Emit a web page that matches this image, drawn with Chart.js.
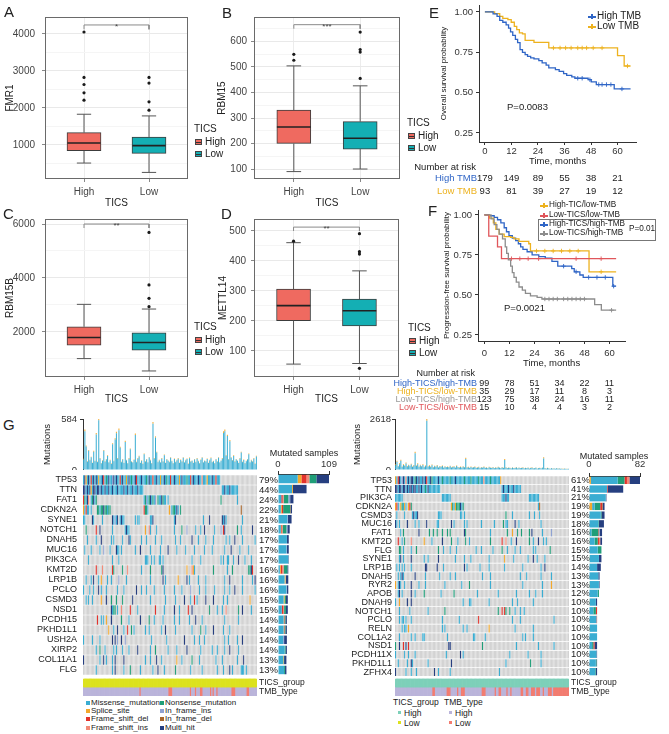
<!DOCTYPE html>
<html>
<head>
<meta charset="utf-8">
<title>TICS / TMB figure</title>
<script src="https://cdn.jsdelivr.net/npm/chart.js@4"></script>
<style>
  body { margin: 0; background: #fff; font-family: "Liberation Sans", Arial, sans-serif; color: #222; }
  #fig { position: relative; width: 669px; height: 734px; overflow: hidden; background: #fff; }
  #fig canvas { position: absolute; }
  .t { position: absolute; white-space: nowrap; line-height: 1; }
  .bk { position: absolute; width: 7px; height: 6px; border: 1px solid #444; box-sizing: border-box; }
  .bk::after { content: ''; position: absolute; left: 0; right: 0; top: 2px; height: 1px; background: #333; }
  .sw { position: absolute; width: 4px; height: 4px; }
  .lk { position: absolute; width: 8px; height: 1.5px; }
  .lk::after { content: ''; position: absolute; left: 3px; top: -2px; width: 1.5px; height: 5px; background: inherit; }
  .rbox { position: absolute; border: 1px solid #777; }
</style>
</head>
<body>
<div id="fig"></div>
<script>
// ---------- box plot data: [lower whisker, Q1, median, Q3, upper whisker] for High / Low TICS
const fmr1Box = [[512, 846, 1054, 1334, 1831], [259, 774, 982, 1217, 1786]];
const fmr1Out = [[2211, 2410, 2635, 2825, 4054], [1940, 2166, 2672, 2825]];
const rbm15Box = [[91, 201, 265, 331, 504], [101, 179, 221, 286, 426]];
const rbm15Out = [[526, 549], [455, 558, 568, 636]];
const rbm15bBox = [[1006, 1503, 1789, 2186, 3019], [547, 1317, 1602, 1963, 2845]];
const rbm15bOut = [[], [2932, 3242, 3739, 5689]];
const mettl14Box = [[56, 201, 251, 306, 461], [58, 183, 234, 273, 367]];
const mettl14Out = [[466], [42, 423, 431, 491]];
const groups = ['High', 'Low'];

// ---------- Kaplan-Meier curves (time in months, survival probability)
const osHighT = [0, 3.7, 5.5, 6.7, 8.1, 9.6, 10.7, 11.6, 12.6, 13.8, 14.8, 15.9, 17.0, 18.2, 19.3, 20.7, 22.2, 24.4, 25.9, 27.7, 28.9, 31.9, 33.6, 35.6, 37.0, 39.3, 40.7, 46.7, 48.1, 50.4, 58.5, 65.9];
const osHighS = [1, 0.988, 0.973, 0.948, 0.936, 0.92, 0.90, 0.876, 0.855, 0.83, 0.81, 0.767, 0.75, 0.735, 0.725, 0.715, 0.709, 0.698, 0.684, 0.67, 0.653, 0.643, 0.632, 0.618, 0.607, 0.597, 0.589, 0.58, 0.566, 0.55, 0.523, 0.523];
const osLowT = [0, 4.4, 6.7, 8.1, 10.4, 11.9, 13.3, 14.4, 15.6, 17.0, 18.2, 22.2, 28.9, 60.0, 63.0, 65.9];
const osLowS = [1, 0.99, 0.973, 0.96, 0.952, 0.936, 0.911, 0.89, 0.87, 0.864, 0.824, 0.812, 0.777, 0.729, 0.665, 0.665];
const osHighCens = [[42, 0.589], [44, 0.589], [47.5, 0.58], [51.5, 0.55], [53, 0.55], [55, 0.55], [57, 0.55], [62, 0.523]];
const osLowCens = [[31, 0.777], [34, 0.777], [36.5, 0.777], [39, 0.777], [42, 0.777], [44, 0.777], [46, 0.777], [49, 0.777], [53, 0.777], [64.5, 0.665]];
const osRiskHigh = [179, 149, 89, 55, 38, 21];
const osRiskLow = [93, 81, 39, 27, 19, 12];

const pfsHhT = [0, 2.4, 4.7, 6.3, 7.9, 9.5, 10.6, 11.8, 13.4, 15.0, 16.3, 17.4, 18.5, 20.5, 22.9, 26.1, 29.2, 32.4, 35.2, 41.9, 43.1, 45.8, 47.4, 61.6, 63.2];
const pfsHhS = [1, 0.995, 0.985, 0.97, 0.95, 0.92, 0.895, 0.87, 0.855, 0.84, 0.82, 0.80, 0.785, 0.77, 0.75, 0.74, 0.73, 0.71, 0.68, 0.665, 0.645, 0.625, 0.61, 0.555, 0.555];
const pfsHlT = [0, 2.4, 4.3, 5.5, 7.1, 9.5, 12.6, 14.2, 16.6, 21.3, 22.1, 50.2, 63.2];
const pfsHlS = [1, 0.98, 0.95, 0.91, 0.88, 0.865, 0.86, 0.85, 0.835, 0.82, 0.775, 0.645, 0.645];
const pfsLhT = [0, 3.2, 4.7, 6.0, 7.1, 8.7, 10.0, 10.7, 11.5, 12.6, 13.4, 14.2, 15.3, 16.6, 18.2, 19.7, 22.1, 25.3, 27.6, 52.9, 56.1, 63.2];
const pfsLhS = [1, 0.975, 0.94, 0.91, 0.88, 0.85, 0.80, 0.76, 0.72, 0.68, 0.64, 0.61, 0.58, 0.55, 0.53, 0.51, 0.495, 0.485, 0.475, 0.44, 0.405, 0.405];
const pfsLlT = [0, 2.1, 6.3, 8.2, 63.2];
const pfsLlS = [1, 0.868, 0.80, 0.727, 0.727];
const pfsHhCens = [[38, 0.68], [44, 0.645], [50, 0.61], [54, 0.61], [58, 0.61], [62, 0.555]];
const pfsHlCens = [[25, 0.775], [29, 0.775], [33, 0.775], [37, 0.775], [41, 0.775], [45, 0.775], [56, 0.645]];
const pfsLhCens = [[29, 0.475], [31, 0.475], [33, 0.475], [35, 0.475], [38, 0.475], [40, 0.475], [42, 0.475], [44, 0.475], [46, 0.475], [48, 0.475], [61, 0.405]];
const pfsLlCens = [[13, 0.727], [17, 0.727], [21, 0.727], [26, 0.727], [44, 0.727], [56, 0.727]];
const pfsRiskHh = [99, 78, 51, 34, 22, 11];
const pfsRiskHl = [35, 29, 17, 11, 8, 3];
const pfsRiskLh = [123, 75, 38, 24, 16, 11];
const pfsRiskLl = [15, 10, 4, 4, 3, 2];
const kmTicks = [0, 12, 24, 36, 48, 60];

// ---------- oncoplots: m missense, n nonsense, s splice, d fs_del, i fs_ins, f if_ins, e if_del, x multi
const genesL = ['TP53', 'TTN', 'FAT1', 'CDKN2A', 'SYNE1', 'NOTCH1', 'DNAH5', 'MUC16', 'PIK3CA', 'KMT2D', 'LRP1B', 'PCLO', 'CSMD3', 'NSD1', 'PCDH15', 'PKHD1L1', 'USH2A', 'XIRP2', 'COL11A1', 'FLG'];
const pctL = [79, 44, 24, 22, 21, 18, 17, 17, 17, 16, 16, 16, 15, 15, 14, 14, 14, 14, 13, 13];
const mutL = [
  'mxsmxmdmxm xmsmmxdmnm xmmfxmxmmd mxmmsmxmnm mxdmmmxmmm nmxmmdmmxm msmmxmnmmd mmxmmmsmxm mmnmmdmxmm mxmmimmmsm mmxmmdmmm',
  'xxmxmxsmxx mxxmxmmxmm xmmxmmmxmm mmxmmxmmmx mmmxmmmm.. .......... .......... .......... .......... .......... .......... mmxmmmxmmm mmm',
  'dnmxi.mnxm n......... .......... .......... ........mn fmnxmnmf.n mmxnmm.m.. .......... .......... .......... .........n .......... ..m',
  'smdmm.m... .nnmnnxnnm nn........ .......... ........dn nm........ ........s. mnnmxm.n.. .......... .......... .......... .......... .....e',
  'mm.....xm. .....m.... ...xmfmx.m xmm....... .m.mm..... ...mmx.... .......... ..mx...... .......... .....m.... x......... xmxm...... ......m',
  '..n....... d..x...... ...m...... ...mxmm... .........s ..im....m. .......... ..m.....n. ..f......m ...m..x... ....m....f .dx....... ..n..m.... ....x',
  '...m...... m...x..... ..m.m..... .m....xm.. ......m... m......m.. ..m....... ...m...m.. ......x... .m.....m.. ...m...... ...m..m... x.....m... ......m',
  '.m....m... ...m..f... .m....xmm. m......... .m...x.... ...m...... .m.....x.. ....m..... .m......m. ......m... ..m....... ..m....x.. ....m..... .m',
  '....m..... .......... ...m....m. .......... .........m mm..m.m... mm.m...... .......... ......m... ...m...... .........m .m..mm...m ...x....m. ...m',
  '.......... d....i.... ...dn..... .n...i.... ......m... ...n...... ..nx...... .......... ..s...ism. .......... ...n...... ....m...n. .......... .nnxd',
  '..m...m.x. ..m.s....m ..m.....f. ....m..... .......... ...m...... ...x.m.... .....s.... ..x.m..... .m.....m.. .......... ..m...x... ......m... ....m.x',
  'm....m..m. ..x.m...m. .......m.. ..m....... ..x...m... m.....m... ....m..... ..m.....m. .....f.... ..m....m.. ....m..... ..m...m... x.....m... ......m',
  '..m.m..m.. ....s...x. ..n...n... .n.......x .......... ...m...... .....m.... ...m...... x....m..d. m......x.. ...x...... .m..m..... .......... ..s',
  '.......... .......... ..xmnn.m.. i......d.. ...m...... .......d.. ....m..... ..x...m... ...d..x... .......... n.....m... m..i...... ...n..x... ...m',
  '.......... .d..m.m.s. ..x....... n.....m... .....x.... ..n...m... ...m...... ..m...m... ....m....x ....m..... .......... ..m....... ...m',
  '.......... .......... s...m..x.. ..m..d..n. m........m ..m....... ..m..x.... ...m...... ......m... ...n...m.. ...x...... .m....m',
  'm......m.. ...m...... ...x.x.f.. x..f...... .......... ....m..... ......m... .......... x.......m. ..m...m... .......... ..m..m.... ..m...x',
  '.......... m..n...m.. ....m.m... .m....m... ...x...... ...m...n.. .......m.. ....m..... ..x....... ...m...... ..m...m... ..m...x... ...m',
  'x......... ...m..x.m. ...m.x.... ..x....... .........m ...m....x. ..m....... ....s...m. ......n... ..m....... .....m.... m......... ..m....x',
  '.......... m......... ...m.x.... ..m....n.. .....m.... .....m...x ....m..... ...n...... .....m.... ....m..... ......m... .m....x.m. .....mmm.m'
];
const tmbLowL = [45, 68, 69, 70, 85, 89, 93, 94, 101, 103, 106, 118, 119, 120, 130, 131];
const burdenL = [120, 445, 268, 95, 220, 110, 145, 80, 210, 100, 407, 90, 570, 130, 75, 105, 220, 95, 120, 160,
  85, 110, 70, 295, 100, 350, 420, 130, 455, 256, 90, 120, 80, 320, 110, 75, 130, 237, 95, 85,
  115, 400, 90, 130, 155, 80, 105, 70, 180, 95, 120, 85, 143, 110, 75, 530, 130, 370, 200, 90,
  110, 85, 130, 95, 170, 80, 120, 105, 90, 140, 100, 75, 125, 90, 110, 130, 80, 115, 95, 140,
  85, 110, 125, 70, 135, 95, 105, 80, 120, 90, 130, 100, 75, 115, 140, 85, 105, 95, 125, 80,
  110, 135, 90, 100, 75, 120, 95, 140, 85, 105, 130, 425, 445, 160, 388, 120, 330, 140, 110, 160,
  95, 120, 105, 80, 130, 200, 90, 115, 75, 100, 120, 180, 85, 110, 95, 130, 70, 155];
const tipsL = [8, 20, 12, 5, 10, 6, 8, 4, 10, 6, 18, 5, 14, 6, 4, 6, 10, 5, 6, 8,
  5, 6, 4, 12, 5, 15, 18, 6, 20, 10, 5, 6, 4, 14, 6, 4, 6, 10, 5, 4,
  6, 18, 5, 6, 8, 4, 6, 4, 8, 5, 6, 4, 7, 6, 4, 20, 6, 15, 9, 5,
  6, 4, 7, 5, 8, 4, 6, 5, 4, 7, 5, 4, 6, 5, 6, 7, 4, 6, 5, 7,
  4, 6, 6, 4, 7, 5, 5, 4, 6, 5, 7, 5, 4, 6, 7, 4, 5, 5, 6, 4,
  6, 7, 5, 5, 4, 6, 5, 7, 4, 5, 6, 18, 20, 8, 16, 6, 14, 7, 5, 8,
  5, 6, 5, 4, 6, 10, 5, 6, 4, 5, 6, 8, 4, 6, 5, 6, 4, 8];
const cntL = {
  m: [42, 30, 7, 6, 20, 6, 19, 18, 22, 4, 14, 18, 12, 8, 12, 12, 11, 14, 11, 13],
  s: [8, 2, 0, 2, 0, 1, 0, 0, 0, 2, 2, 0, 2, 0, 1, 1, 0, 0, 1, 0],
  d: [11, 0, 3, 3, 0, 2, 0, 0, 0, 3, 0, 0, 0, 3, 1, 1, 0, 0, 0, 0],
  i: [6, 0, 2, 0, 0, 1, 0, 0, 0, 3, 0, 0, 0, 2, 0, 0, 0, 0, 0, 0],
  n: [15, 0, 10, 15, 0, 8, 0, 0, 0, 8, 0, 0, 3, 4, 2, 2, 0, 2, 1, 2],
  f: [0, 0, 4, 0, 1, 2, 0, 1, 0, 0, 1, 1, 0, 0, 0, 0, 2, 0, 0, 0],
  e: [0, 0, 0, 1, 0, 0, 0, 0, 0, 0, 0, 0, 0, 0, 0, 0, 0, 0, 0, 0],
  x: [27, 29, 7, 3, 8, 5, 4, 4, 1, 2, 5, 3, 4, 4, 3, 3, 6, 3, 5, 3]
};

const genesR = ['TP53', 'TTN', 'PIK3CA', 'CDKN2A', 'CSMD3', 'MUC16', 'FAT1', 'KMT2D', 'FLG', 'SYNE1', 'LRP1B', 'DNAH5', 'RYR2', 'APOB', 'DNAH9', 'NOTCH1', 'PCLO', 'RELN', 'COL1A2', 'NSD1', 'PCDH11X', 'PKHD1L1', 'ZFHX4'];
const pctR = [61, 41, 21, 19, 19, 18, 16, 16, 15, 15, 14, 13, 13, 12, 10, 10, 10, 10, 10, 10, 10, 10, 10];
const mutR = [
  'smdxmfxmim xmxxmnxmxm mxmxdmmxnm mmmxmmnmmm mmnmmmxmmm mmmnmmmmnm mmmmnmmmim mmmnmmmmmm ms',
  'xxmxxmxxmx mxxmxxmmxm xmmnmxmmmm mmmmm..... .......... .......... .......... .......... ..mxmmmxmm mxmmmmm',
  'mmmmmm.... .......... .......... ......mmmm mmm....... .......... .......... .......... ..mmmxmm.. .......... ...mmmmmmm m',
  'sdm.snmsm. sdn....... .......... .......... ...snmsnnn xmn....... .......... .......... .......... .......... .......... me',
  '.m.....m.. ...mxmmx.. .......... ...mmm.... .......... mm.m...... .......... .......... .....n.... m......... ...m...m.. .m',
  'xm.m.....x .....m..m. ....x..... ..mm...... ...x.m.... ...m.m.... ......m... ......m... ...n.mm... ..x..m.... .......... ..m',
  '....m.n... ........x. ......n..n ..n...n... n.n....... ...xn..... .......... ...m...... ......n... s...n..n.. ...n.x.... ...m...... f',
  '..d..m.n.. ..i....... ..s.....m. ......x... ...n....m. ....n..m.. .......... ...n...... ..d..i...m ...x...... ...n..m... x...m.m',
  '...nn.m... ..m...n... .......... ...n...m.. ..m....m.. .......... ..m...m... .....m.... ..n...m... ..m...m... ......m.m. .........n',
  '...mx.m... ..x....... ..m..m.... ...x...... ......m... ...m....m. .......... ..m....... ....s..... .m........ ..m...x..m .....m',
  '.m.m.m.m.. ..m....... ...xx..... ..x....m.. .......... ...x.m.... .....m.... ..m....... ....m..... ........m. .......... ..m..x',
  '..m.mxm... .....x.... ...m...... ....m..... ..m...m... .......... .......m.. ...m...... .......... ......m... .m........ ..m....... m',
  's.mxm..m.. ..x.....m. ...m...... ........m. .......... .m.....n.. .......... ...m...... .......... ........m. .......... ...m...... s',
  '..mx.m.... ..x..m.... ..n....... .....m.... .....n.... .......... ...m...... .........m .......... ...m...... ...m....m. ...m',
  'm..s.....x ..x....... .......... .......... .......... ..m....mm. .......... ..m....... .......... m...m..... ......m',
  '...m...... .m........ .....m.... ........n. .......... .......... .......... .........n ..d.dn..n. ..m...m..m',
  '...m.mm.m. ..m....... .......... ......m... .........m .......... ....d..... .......... .......... m.....m... .......... .......... ..m',
  '.....m.mm. s......... .......... ......m.m. .......... ..m..m.... .......... ..s....... .......... ..m....... ......m',
  '...m...... ..m..m.... .mm....... .......... m......... .......... mm.......m .......... .......... ........m. m.....m',
  'n..x..d.x. d......... .......... .......... .xx....... .......... .......n.. .......... .......... ...m...... .......... m......... ..m',
  'm......m.. m....m.... .......... .........m .......... x.m....... .......... .......... ........m. .......... ..m....... ..m',
  '..m......m ..xm...... .....m.... .......... ...x...... .......... .......... .......... .....m.... .......... ....n..... ..m',
  'x.......m. ..m...m... .......... x..m...... ..m....... .......... .......... .......... m'
];
const tmbLowR = [29, 30, 40, 41, 42, 48, 51, 52, 53, 67, 68, 69, 77, 80, 81, 86, 89, 97, 98, 101, 102, 105, 106, 107, 109, 110, 111, 114, 118, 119, 120, 122, 123, 124, 125, 126, 127, 128, 129, 130, 131, 132, 133];
const burdenR = [250, 420, 180, 300, 470, 150, 260, 200, 330, 170, 240, 190, 280, 160, 220, 860, 200, 300, 150, 230,
  180, 260, 140, 200, 2528, 170, 210, 150, 240, 130, 190, 160, 220, 120, 180, 150, 200, 110, 170, 140,
  160, 130, 190, 120, 150, 170, 110, 200, 140, 120, 150, 110, 170, 130, 560, 120, 140, 100, 160, 110,
  130, 150, 100, 120, 140, 90, 130, 110, 150, 100, 120, 90, 140, 110, 100, 130, 90, 120, 100, 140,
  110, 90, 130, 100, 510, 120, 90, 110, 100, 80, 120, 90, 100, 130, 80, 110, 90, 100, 120, 80,
  100, 90, 110, 70, 100, 120, 80, 90, 110, 70, 90, 100, 80, 110, 590, 90, 70, 100, 80, 60,
  90, 70, 80, 60, 90, 70, 80, 60, 70, 50, 70, 60, 50, 60];
const tipsR = [40, 60, 30, 45, 60, 25, 40, 30, 50, 30, 35, 30, 45, 25, 35, 80, 30, 45, 25, 35,
  30, 40, 25, 30, 90, 25, 35, 25, 40, 20, 30, 25, 35, 20, 30, 25, 30, 20, 25, 20,
  25, 20, 30, 20, 25, 25, 20, 30, 20, 20, 25, 20, 25, 20, 70, 20, 25, 20, 25, 20,
  20, 25, 20, 20, 25, 15, 20, 20, 25, 15, 20, 15, 25, 20, 15, 20, 15, 20, 15, 25,
  20, 15, 20, 15, 60, 20, 15, 20, 15, 15, 20, 15, 15, 20, 15, 20, 15, 15, 20, 15,
  15, 15, 20, 10, 15, 20, 15, 15, 20, 10, 15, 15, 10, 20, 70, 15, 10, 15, 15, 10,
  15, 10, 15, 10, 15, 10, 15, 10, 10, 10, 10, 10, 10, 10];
const cntR = {
  s: [3, 0, 0, 5, 0, 0, 1, 1, 0, 1, 0, 0, 1, 0, 1, 0, 0, 1, 0, 0, 0, 0, 0],
  m: [43, 29, 27, 4, 19, 15, 3, 8, 14, 15, 13, 15, 15, 14, 10, 7, 12, 12, 13, 5, 12, 11, 10],
  n: [11, 0, 0, 9, 1, 1, 11, 5, 6, 0, 0, 0, 0, 2, 0, 4, 0, 0, 0, 2, 0, 1, 1],
  d: [4, 1, 0, 3, 0, 0, 1, 2, 0, 0, 0, 0, 0, 0, 0, 2, 1, 0, 0, 2, 0, 0, 0],
  i: [4, 0, 0, 0, 0, 0, 0, 2, 0, 0, 0, 0, 0, 0, 0, 0, 0, 0, 0, 0, 0, 0, 0],
  f: [0, 0, 0, 0, 0, 0, 1, 0, 0, 0, 0, 0, 0, 0, 0, 0, 0, 0, 0, 0, 0, 0, 0],
  e: [0, 0, 0, 1, 0, 0, 0, 0, 0, 0, 0, 0, 0, 0, 0, 0, 0, 0, 0, 0, 0, 0, 0],
  x: [17, 25, 1, 3, 5, 8, 4, 3, 0, 4, 6, 2, 1, 0, 2, 0, 0, 0, 0, 4, 1, 1, 2]
};

// ---------- styling
const FONT = '"Liberation Sans", Arial, sans-serif';
const HIGH_COL = '#EF6A60', LOW_COL = '#14AFB4';
const MUTCOL = { m: '#3AADD2', n: '#1F9E78', s: '#F3A82B', d: '#E3322B', i: '#F28A77', f: '#8FA2D2', e: '#A5652B', x: '#263F80' };
const CELL_GRAY = '#D3D3D3';
const LAV = '#BAB4DA', SALMON = '#F27C70';
const BLUE = '#2F65C6', GOLD = '#EDB21F', GREY = '#8C8C8C', RED = '#E0565B';

Chart.defaults.font.family = FONT;
Chart.defaults.color = '#333';
Chart.defaults.animation = false;
Chart.defaults.responsive = false;
Chart.defaults.plugins.legend.display = false;
Chart.defaults.plugins.tooltip.enabled = false;

const fig = document.getElementById('fig');

function mkCanvas(x, y, w, h) {
  const c = document.createElement('canvas');
  c.width = w; c.height = h;
  c.style.left = x + 'px'; c.style.top = y + 'px';
  fig.appendChild(c);
  return c;
}
function txt(x, y, s, o = {}) {
  const d = document.createElement('div');
  const size = o.size || 10;
  d.className = 't';
  d.textContent = s;
  d.style.fontSize = size + 'px';
  d.style.left = x + 'px';
  d.style.top = (y - size / 2) + 'px';
  if (o.color) d.style.color = o.color;
  if (o.align === 'right') d.style.transform = 'translateX(-100%)';
  if (o.align === 'center') d.style.transform = 'translateX(-50%)';
  fig.appendChild(d);
  return d;
}
function el(cls, x, y, col, w, h) {
  const d = document.createElement('div');
  d.className = cls;
  d.style.left = x + 'px'; d.style.top = y + 'px';
  if (col) d.style.background = col;
  if (w) d.style.width = w + 'px';
  if (h) d.style.height = h + 'px';
  fig.appendChild(d);
  return d;
}
const fixW = w => s => { s.width = w; s.paddingTop = 0; s.paddingBottom = 0; };
const fixH = h => s => { s.height = h; s.paddingLeft = 0; s.paddingRight = 0; };
const setTicks = vals => s => { s.ticks = vals.map(v => ({ value: v })); };
const parseRow = (s, n) => (s.replace(/\s+/g, '') + '.'.repeat(n)).slice(0, n).split('');

const framePlugin = {
  id: 'frame',
  afterDraw(ch) {
    const { left, top, right, bottom } = ch.chartArea;
    const ctx = ch.ctx;
    ctx.save();
    ctx.strokeStyle = '#6a6a6a';
    ctx.lineWidth = 1;
    ctx.strokeRect(Math.round(left) + 0.5, Math.round(top) + 0.5, Math.round(right - left) - 1, Math.round(bottom - top) - 1);
    ctx.restore();
  }
};
const sigPlugin = {
  id: 'sig',
  afterDatasetsDraw(ch, args, o) {
    if (!o || !o.text) return;
    const ctx = ch.ctx;
    ctx.save();
    ctx.fillStyle = '#444';
    ctx.font = '8px ' + FONT;
    ctx.textAlign = 'center';
    ctx.textBaseline = 'alphabetic';
    ctx.fillText(o.text, ch.scales.x.getPixelForValue(1.5), ch.scales.y.getPixelForValue(o.y) + 4);
    ctx.restore();
  }
};

// ---------- box plot panels
function boxPanel(p) {
  const c = mkCanvas(p.cx, p.cy, p.cw, p.ch);
  const HALF = 0.255, CAP = 0.11;
  const boxes = [], whisk = [], meds = [], pts = [];
  p.box.forEach((b, i) => {
    const x = i + 1;
    const [lo, q1, md, q3, hi] = b;
    boxes.push({ x, y: [q1, q3] });
    whisk.push({ x, y: lo }, { x, y: q1 }, { x, y: null }, { x, y: q3 }, { x, y: hi }, { x, y: null },
      { x: x - CAP, y: lo }, { x: x + CAP, y: lo }, { x, y: null },
      { x: x - CAP, y: hi }, { x: x + CAP, y: hi }, { x, y: null });
    meds.push({ x: x - HALF, y: md }, { x: x + HALF, y: md }, { x, y: null });
    p.out[i].forEach(v => pts.push({ x, y: v }));
  });
  const [by, bl] = p.bracket;
  const bracket = [{ x: 1, y: bl }, { x: 1, y: by }, { x: 2, y: by }, { x: 2, y: bl }];
  const major = new Set(p.major);
  new Chart(c, {
    type: 'bar',
    data: {
      datasets: [
        { type: 'bar', data: boxes, backgroundColor: [HIGH_COL, LOW_COL], borderColor: '#3c3c3c', borderWidth: 1, borderSkipped: false, barThickness: 34, order: 5 },
        { type: 'line', data: whisk, borderColor: '#555', borderWidth: 1, pointRadius: 0, order: 4 },
        { type: 'line', data: meds, borderColor: '#222', borderWidth: 1.6, pointRadius: 0, order: 3 },
        { type: 'scatter', data: pts, backgroundColor: '#1a1a1a', borderWidth: 0, pointRadius: 1.6, order: 2 },
        { type: 'line', data: bracket, borderColor: '#8a8a8a', borderWidth: 1, pointRadius: 0, order: 1 }
      ]
    },
    options: {
      layout: { padding: { left: p.pl, top: p.pt, right: 2, bottom: 0 } },
      plugins: { sig: { text: p.sig, y: by } },
      scales: {
        x: {
          type: 'linear', min: 0.4, max: 2.6, offset: false,
          afterBuildTicks: setTicks([1, 2]), afterFit: fixH(p.xh),
          ticks: { callback: (v) => groups[v - 1] || '', padding: 4, font: { size: 10 }, color: '#444', maxRotation: 0, autoSkip: false },
          grid: { color: '#ececec', tickColor: '#888', tickLength: 3, offset: false },
          border: { display: false },
          title: { display: true, text: 'TICS', font: { size: 10, lineHeight: 1 }, padding: 0, color: '#222' }
        },
        y: {
          min: p.ymin, max: p.ymax,
          afterBuildTicks: setTicks(p.major.concat(p.minor)), afterFit: fixW(p.yw),
          ticks: { callback: v => major.has(v) ? String(v) : '', padding: p.tp, font: { size: 10 }, color: '#444', autoSkip: false },
          grid: {
            color: ctx => major.has(ctx.tick.value) ? '#e9e9e9' : '#f5f5f5',
            tickColor: ctx => major.has(ctx.tick.value) ? '#888' : 'rgba(0,0,0,0)', tickLength: 3
          },
          border: { display: false },
          title: { display: true, text: p.title, font: { size: 10, lineHeight: 1 }, padding: 0, color: '#222' }
        }
      }
    },
    plugins: [framePlugin, sigPlugin]
  });
}

boxPanel({ cx: 0, cy: 0, cw: 192, ch: 208, pl: 5, pt: 17, yw: 40, xh: 29, tp: 7, title: 'FMR1',
  box: fmr1Box, out: fmr1Out, ymin: 81, ymax: 4459, major: [1000, 2000, 3000, 4000], minor: [500, 1500, 2500, 3500],
  bracket: [4244, 4126], sig: '*' });
boxPanel({ cx: 200, cy: 0, cw: 204, ch: 208, pl: 17, pt: 17, yw: 37, xh: 29, tp: 4, title: 'RBM15',
  box: rbm15Box, out: rbm15Out, ymin: 62, ymax: 695, major: [100, 200, 300, 400, 500, 600], minor: [150, 250, 350, 450, 550, 650],
  bracket: [665, 649], sig: '***' });
boxPanel({ cx: 0, cy: 190, cw: 192, ch: 214, pl: 5, pt: 29, yw: 40, xh: 27, tp: 7, title: 'RBM15B',
  box: rbm15bBox, out: rbm15bOut, ymin: 323, ymax: 6186, major: [2000, 4000, 6000], minor: [1000, 3000, 5000],
  bracket: [6000, 5851], sig: '**' });
boxPanel({ cx: 200, cy: 190, cw: 203, ch: 214, pl: 18, pt: 29, yw: 36, xh: 27, tp: 5, title: 'METTL14',
  box: mettl14Box, out: mettl14Out, ymin: 13, ymax: 540, major: [100, 200, 300, 400, 500], minor: [50, 150, 250, 350, 450],
  bracket: [513, 500], sig: '**' });

// box legends
[[194, 129], [407, 123], [194, 327], [408, 328]].forEach(([x, y]) => {
  txt(x, y, 'TICS', { size: 10 });
  el('bk', x + 1, y + 10, HIGH_COL);
  txt(x + 11, y + 13, 'High', { size: 10 });
  el('bk', x + 1, y + 22, LOW_COL);
  txt(x + 11, y + 25, 'Low', { size: 10 });
});

// ---------- Kaplan-Meier panels
function kmChart(p) {
  const c = mkCanvas(p.cx, p.cy, p.cw, p.ch);
  const ds = [];
  p.curves.forEach(cv => {
    ds.push({ type: 'line', data: cv.t.map((t, i) => ({ x: t, y: cv.s[i] })), stepped: true, borderColor: cv.col, borderWidth: 1.3, pointRadius: 0 });
    ds.push({ type: 'scatter', data: cv.cens.map(([x, y]) => ({ x, y })), pointStyle: 'cross', pointRadius: 2.2, borderColor: cv.col, borderWidth: 0.9 });
  });
  return new Chart(c, {
    type: 'line',
    data: { datasets: ds },
    options: {
      layout: { padding: { left: 0, top: p.pt, right: 2, bottom: 0 } },
      scales: {
        x: {
          type: 'linear', min: p.xmin, max: p.xmax,
          afterBuildTicks: setTicks(kmTicks), afterFit: fixH(p.xh),
          ticks: { padding: p.xtp, font: { size: 9.5 }, color: '#333', maxRotation: 0, autoSkip: false },
          grid: { drawOnChartArea: false, tickLength: 3, tickColor: '#333' },
          border: { display: true, color: '#333', width: 1 },
          title: { display: true, text: 'Time, months', font: { size: 9.5, lineHeight: 1 }, padding: 0, color: '#222' }
        },
        y: {
          min: p.ymin, max: p.ymax,
          afterBuildTicks: setTicks([0.25, 0.5, 0.75, 1]), afterFit: fixW(p.yw),
          ticks: { callback: v => v.toFixed(2), padding: 3, font: { size: 9.5 }, color: '#333', autoSkip: false },
          grid: { drawOnChartArea: false, tickLength: 3, tickColor: '#333' },
          border: { display: true, color: '#333', width: 1 },
          title: { display: true, text: p.title, font: { size: 8, lineHeight: 1 }, padding: 0, color: '#222' }
        }
      }
    }
  });
}

const eLeft = 440, eTop = 0;
const eChart = kmChart({ cx: eLeft, cy: eTop, cw: 201, ch: 166, pt: 5, xh: 24, yw: 39, xtp: 1,
  xmin: -2.67, xmax: 68.4, ymin: 0.194, ymax: 1.043, title: 'Overall survival probability',
  curves: [
    { t: osHighT, s: osHighS, cens: osHighCens, col: BLUE },
    { t: osLowT, s: osLowS, cens: osLowCens, col: GOLD }
  ] });
const fLeft = 443, fTop = 200;
const fChart = kmChart({ cx: fLeft, cy: fTop, cw: 187, ch: 168, pt: 10, xh: 27, yw: 35, xtp: 4,
  xmin: -3.06, xmax: 67.5, ymin: 0.2125, ymax: 1.031, title: 'Progression-free survival probability',
  curves: [
    { t: pfsLhT, s: pfsLhS, cens: pfsLhCens, col: GREY },
    { t: pfsLlT, s: pfsLlS, cens: pfsLlCens, col: RED },
    { t: pfsHlT, s: pfsHlS, cens: pfsHlCens, col: GOLD },
    { t: pfsHhT, s: pfsHhS, cens: pfsHhCens, col: BLUE }
  ] });

// KM legends and p-values
el('lk', 588, 16, BLUE); txt(597, 16, 'High TMB', { size: 10 });
el('lk', 588, 26, GOLD); txt(597, 26, 'Low TMB', { size: 10 });
txt(507, 107, 'P=0.0083', { size: 9.5 });
el('rbox', 538, 219, null, 116, 20);
[['High-TIC/low-TMB', GOLD, 205], ['Low-TICS/low-TMB', RED, 215], ['High-TICS/high-TMB', BLUE, 224], ['Low-TICS/high-TMB', GREY, 233]]
  .forEach(([s, col, y]) => { el('lk', 540, y, col); txt(549, y, s, { size: 8.2 }); });
txt(629, 229, 'P=0.01', { size: 8.2 });
txt(504, 308, 'P=0.0021', { size: 9.5 });

// risk tables placed with the KM x scales
const ex = t => eLeft + eChart.scales.x.getPixelForValue(t);
const fx = t => fLeft + fChart.scales.x.getPixelForValue(t);
txt(476, 167, 'Number at risk', { size: 9.5, align: 'right' });
[['High TMB', BLUE, osRiskHigh, 178], ['Low TMB', GOLD, osRiskLow, 191]].forEach(([lab, col, vals, y]) => {
  txt(477, y, lab, { size: 9.5, color: col, align: 'right' });
  vals.forEach((v, i) => txt(ex(kmTicks[i]), y, String(v), { size: 9.5, align: 'center' }));
});
txt(475, 373, 'Number at risk', { size: 9, align: 'right' });
[['High-TICS/high-TMB', BLUE, pfsRiskHh, 383], ['High-TICS/low-TMB', GOLD, pfsRiskHl, 391],
 ['Low-TICS/high-TMB', '#9a9a9a', pfsRiskLh, 399], ['Low-TICS/low-TMB', RED, pfsRiskLl, 407]].forEach(([lab, col, vals, y]) => {
  txt(477, y, lab, { size: 9, color: col, align: 'right' });
  vals.forEach((v, i) => txt(fx(kmTicks[i]), y, String(v), { size: 9, align: 'center' }));
});

// ---------- oncoplots
function burdenChart(p) {
  const c = mkCanvas(p.cx, p.cy, p.cw, p.ch);
  const labels = p.mis.map((_, i) => i);
  new Chart(c, {
    type: 'bar',
    data: { labels, datasets: [
      { data: p.mis, backgroundColor: MUTCOL.m, barPercentage: 0.8, categoryPercentage: 1 },
      { data: p.tip, backgroundColor: MUTCOL.s, barPercentage: 0.8, categoryPercentage: 1 }
    ] },
    options: {
      layout: { padding: { left: 0, top: p.pt, right: p.pr, bottom: 0 } },
      scales: {
        x: { stacked: true, display: false },
        y: {
          stacked: true, min: 0, max: p.max,
          afterBuildTicks: setTicks([0, p.max]), afterFit: fixW(p.yw),
          ticks: { callback: v => String(v), padding: p.tp, font: { size: 9.5 }, color: '#333', autoSkip: false },
          grid: { drawOnChartArea: false, tickLength: 3, tickColor: '#333' },
          border: { display: true, color: '#333' },
          title: { display: true, text: 'Mutations', font: { size: 9.5, lineHeight: 1 }, padding: 0, color: '#222' }
        }
      }
    }
  });
}

function matrixChart(p) {
  const N = p.n, ng = p.genes.length;
  const rows = p.rows.map(s => parseRow(s, N));
  const labels = Array.from({ length: N }, (_, i) => i);
  const cell = { borderColor: '#fff', borderWidth: { top: 0.7, bottom: 0.7, left: 0, right: 0 }, borderSkipped: false, barPercentage: 1, categoryPercentage: 1 };
  const ds = rows.map(r => Object.assign({ data: r.map(() => 1), backgroundColor: r.map(ch => MUTCOL[ch] || CELL_GRAY) }, cell));
  const [gap, h1, h2] = p.ann;
  ds.push({ data: labels.map(() => gap), backgroundColor: 'rgba(0,0,0,0)', barPercentage: 1, categoryPercentage: 1 });
  ds.push({ data: labels.map(() => h1), backgroundColor: p.ticsCol, barPercentage: 1, categoryPercentage: 1 });
  ds.push({ data: labels.map(() => h2), backgroundColor: labels.map(i => p.tmbLow.includes(i) ? SALMON : LAV), barPercentage: 1, categoryPercentage: 1 });
  const total = ng + gap + h1 + h2;
  const centers = p.genes.map((_, k) => k + 0.5);
  const annC = [ng + gap + h1 / 2, ng + gap + h1 + h2 / 2];
  const c = mkCanvas(p.cx, p.cy, p.cw, p.ch);
  const labFont = i => ({ size: i < ng ? 9.5 : 8.5, lineHeight: 1 });
  new Chart(c, {
    type: 'bar',
    data: { labels, datasets: ds },
    options: {
      layout: { padding: 0 },
      scales: {
        x: { stacked: true, display: false },
        y: {
          stacked: true, reverse: true, min: 0, max: total,
          afterBuildTicks: setTicks(centers), afterFit: fixW(p.yw),
          ticks: { callback: (v, i) => p.genes[i], padding: p.lp, font: { size: 9, lineHeight: 1 }, color: '#222', autoSkip: false },
          grid: { display: false, drawTicks: false }, border: { display: false }
        },
        y2: {
          position: 'right', reverse: true, min: 0, max: total,
          afterBuildTicks: setTicks(centers.concat(annC)), afterFit: fixW(p.rw),
          ticks: { callback: (v, i) => i < ng ? p.pct[i] + '%' : ['TICS_group', 'TMB_type'][i - ng], padding: 2,
            font: ctx => labFont(ctx.index), color: '#222', autoSkip: false },
          grid: { display: false, drawTicks: false }, border: { display: false }
        }
      }
    }
  });
}

function sideChart(p) {
  const c = mkCanvas(p.cx, p.cy, p.cw, p.ch);
  new Chart(c, {
    type: 'bar',
    data: { labels: p.genes, datasets: p.order.map(k => ({ data: p.cnt[k], backgroundColor: MUTCOL[k], barPercentage: 0.84, categoryPercentage: 1 })) },
    options: {
      indexAxis: 'y',
      layout: { padding: { left: p.pl, right: p.pr, top: 0, bottom: 0 } },
      scales: {
        y: { stacked: true, display: false },
        x: {
          stacked: true, position: 'top', min: 0, max: p.max,
          afterBuildTicks: setTicks([0, p.max]), afterFit: fixH(p.xh),
          ticks: { padding: p.tp, font: { size: 9.5 }, color: '#333', maxRotation: 0, autoSkip: false },
          grid: { drawOnChartArea: false, tickLength: 3, tickColor: '#333' },
          border: { display: true, color: '#333' }
        }
      }
    }
  });
}

// left oncoplot (138 samples)
burdenChart({ cx: 43, cy: 410, cw: 216, ch: 60, pt: 9, pr: 2, yw: 40, tp: 3, max: 584, mis: burdenL, tip: tipsL });
matrixChart({ cx: 10, cy: 475, cw: 320, ch: 221, yw: 73, rw: 73, lp: 6, n: 138, genes: genesL, pct: pctL, rows: mutL,
  ann: [0.4, 0.8, 0.9], ticsCol: '#DCE21E', tmbLow: tmbLowL });
sideChart({ cx: 262, cy: 448, cw: 80, ch: 227, pl: 16, pr: 13, xh: 26, tp: 1, max: 109, genes: genesL, cnt: cntL,
  order: ['m', 's', 'd', 'i', 'n', 'f', 'e', 'x'] });
txt(304, 453, 'Mutated samples', { size: 9, align: 'center' });

// right oncoplot (134 samples)
burdenChart({ cx: 353, cy: 410, cw: 218, ch: 60, pt: 9, pr: 2, yw: 42, tp: 1, max: 2618, mis: burdenR, tip: tipsR });
matrixChart({ cx: 325, cy: 475.6, cw: 315, ch: 220.4, yw: 70, rw: 71, lp: 3, n: 134, genes: genesR, pct: pctR, rows: mutR,
  ann: [0.3, 0.92, 1.03], ticsCol: '#7DD0B9', tmbLow: tmbLowR });
sideChart({ cx: 573, cy: 451, cw: 80, ch: 225, pl: 16, pr: 13, xh: 25, tp: 3, max: 82, genes: genesR, cnt: cntR,
  order: ['s', 'm', 'n', 'd', 'i', 'f', 'e', 'x'] });
txt(614, 456, 'Mutated samples', { size: 9, align: 'center' });

// mutation type legend
[['Missense_mutation', 'm'], ['Splice_site', 's'], ['Frame_shift_del', 'd'], ['Frame_shift_ins', 'i']].forEach(([s, k], j) => {
  el('sw', 86, 701 + j * 8.2, MUTCOL[k]); txt(91, 703 + j * 8.2, s, { size: 8 });
});
[['Nonsense_mutation', 'n'], ['In_frame_ins', 'f'], ['In_frame_del', 'e'], ['Multi_hit', 'x']].forEach(([s, k], j) => {
  el('sw', 160, 701 + j * 8.2, MUTCOL[k]); txt(165, 703 + j * 8.2, s, { size: 8 });
});
// annotation legend
txt(393, 702, 'TICS_group', { size: 8.5 });
txt(444, 702, 'TMB_type', { size: 8.5 });
el('sw', 398, 711, '#7DD0B9', 3, 3); txt(404, 713, 'High', { size: 8.5 });
el('sw', 398, 721, '#DCE21E', 3, 3); txt(404, 723, 'Low', { size: 8.5 });
el('sw', 449, 711, LAV, 3, 3); txt(455, 713, 'High', { size: 8.5 });
el('sw', 449, 721, SALMON, 3, 3); txt(455, 723, 'Low', { size: 8.5 });

// panel letters
[['A', 4, 11], ['B', 222, 12], ['C', 3, 213], ['D', 221, 213], ['E', 429, 12], ['F', 428, 210], ['G', 3, 424]]
  .forEach(([s, x, y]) => txt(x, y, s, { size: 15 }));
</script>
</body>
</html>
